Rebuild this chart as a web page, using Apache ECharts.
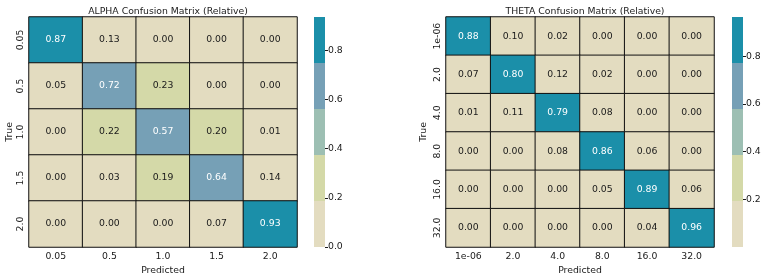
<!DOCTYPE html>
<html>
<head>
<meta charset="utf-8">
<script src="https://cdn.jsdelivr.net/npm/echarts@6/dist/echarts.min.js"></script>
<style>
  html, body { margin: 0; padding: 0; background: #fff; }
  #chart { width: 769px; height: 277px; }
</style>
</head>
<body>
<div id="chart"></div>
<script>
// ALPHA matrix: rows = true class, cols = predicted class
const alphaLabels = ['0.05', '0.5', '1.0', '1.5', '2.0']
const alphaMatrix = [
  [0.87, 0.13, 0.00, 0.00, 0.00],
  [0.05, 0.72, 0.23, 0.00, 0.00],
  [0.00, 0.22, 0.57, 0.20, 0.01],
  [0.00, 0.03, 0.19, 0.64, 0.14],
  [0.00, 0.00, 0.00, 0.07, 0.93]
]
const alphaMax = 0.935

// THETA matrix
const thetaLabels = ['1e-06', '2.0', '4.0', '8.0', '16.0', '32.0']
const thetaMatrix = [
  [0.88, 0.10, 0.02, 0.00, 0.00, 0.00],
  [0.07, 0.80, 0.12, 0.02, 0.00, 0.00],
  [0.01, 0.11, 0.79, 0.08, 0.00, 0.00],
  [0.00, 0.00, 0.08, 0.86, 0.06, 0.00],
  [0.00, 0.00, 0.00, 0.05, 0.89, 0.06],
  [0.00, 0.00, 0.00, 0.00, 0.04, 0.96]
]
const thetaMax = 0.965

// 5-step palette, low -> high
const palette = ['#e3dcc0', '#d4d9a8', '#9dbfb3', '#76a0b6', '#1b8fa9']

const FONT = 'DejaVu Sans'
const FS = 9.3

const toCells = (m) => {
  const out = []
  m.forEach((row, r) => row.forEach((v, c) => out.push([c, r, v])))
  return out
}

const pieces = (vmax) => palette.map((color, i) => ({
  gte: (vmax / 5) * i,
  lt: i === 4 ? 10 : (vmax / 5) * (i + 1),
  color
}))

// outerBoundsMode off so v6 doesn't shrink the grid to fit labels
const heatGrid = (left) => ({ left, top: 17, width: 268, height: 230, outerBoundsMode: 'none' })
const barGrid = (left) => ({ left, top: 17, width: 11, height: 230, outerBoundsMode: 'none' })

const catX = (gridIndex, labels) => ({
  type: 'category', gridIndex, data: labels,
  name: 'Predicted', nameLocation: 'middle', nameGap: 15,
  nameTextStyle: { fontFamily: FONT, fontSize: FS, color: '#1a1a1a' },
  axisLine: { show: false }, axisTick: { show: false }, splitLine: { show: false },
  axisLabel: { fontFamily: FONT, fontSize: FS, color: '#1a1a1a', margin: 5, interval: 0 }
})
const catY = (gridIndex, labels, nameGap) => ({
  type: 'category', gridIndex, data: labels, inverse: true,
  name: 'True', nameLocation: 'middle', nameGap,
  nameTextStyle: { fontFamily: FONT, fontSize: FS, color: '#1a1a1a' },
  axisLine: { show: false }, axisTick: { show: false }, splitLine: { show: false },
  axisLabel: { fontFamily: FONT, fontSize: FS, color: '#1a1a1a', rotate: 90, margin: 4, interval: 0 }
})

const cbX = (gridIndex) => ({
  type: 'category', gridIndex, data: [''], show: false
})
const cbY = (gridIndex, vmax, showMin) => ({
  type: 'value', gridIndex, position: 'right', min: 0, max: vmax, interval: 0.2,
  axisLine: { show: false }, splitLine: { show: false },
  axisTick: { show: true, length: 3, lineStyle: { color: '#1a1a1a' } },
  axisLabel: {
    fontFamily: FONT, fontSize: FS, color: '#1a1a1a', margin: 3,
    showMaxLabel: false, showMinLabel: showMin,
    formatter: (v) => v.toFixed(1)
  }
})

const cbSeries = (axisIndex, vmax) => palette.map((color) => ({
  type: 'bar', xAxisIndex: axisIndex, yAxisIndex: axisIndex,
  stack: 'cb' + axisIndex, barWidth: '100%', silent: true,
  itemStyle: { color },
  data: [vmax / 5]
}))

// white text on the two darkest bands
const heatSeries = (axisIndex, matrix, vmax) => ({
  type: 'heatmap', xAxisIndex: axisIndex, yAxisIndex: axisIndex,
  data: toCells(matrix).map((d) => ({
    value: d,
    label: { color: d[2] >= (vmax / 5) * 3 ? '#fff' : '#1a1a1a' }
  })),
  itemStyle: { borderColor: '#111', borderWidth: 1 },
  label: {
    show: true, fontFamily: FONT, fontSize: FS,
    formatter: (p) => p.value[2].toFixed(2)
  }
})

const chart = echarts.init(document.getElementById('chart'), null, { renderer: 'canvas' })

const option = {
  animation: false,
  textStyle: { fontFamily: FONT },
  title: [
    { text: 'ALPHA Confusion Matrix (Relative)', left: 163, top: 2, textAlign: 'center',
      textStyle: { fontFamily: FONT, fontSize: FS, fontWeight: 'normal', color: '#1a1a1a' } },
    { text: 'THETA Confusion Matrix (Relative)', left: 580, top: 2, textAlign: 'center',
      textStyle: { fontFamily: FONT, fontSize: FS, fontWeight: 'normal', color: '#1a1a1a' } }
  ],
  grid: [heatGrid(29), barGrid(314), heatGrid(446), barGrid(732)],
  xAxis: [catX(0, alphaLabels), cbX(1), catX(2, thetaLabels), cbX(3)],
  yAxis: [catY(0, alphaLabels, 15), cbY(1, alphaMax, true), catY(2, thetaLabels, 18), cbY(3, thetaMax, false)],
  visualMap: [
    { type: 'piecewise', show: false, seriesIndex: 0, dimension: 2, pieces: pieces(alphaMax) },
    { type: 'piecewise', show: false, seriesIndex: 1, dimension: 2, pieces: pieces(thetaMax) }
  ],
  series: [
    heatSeries(0, alphaMatrix, alphaMax),
    heatSeries(2, thetaMatrix, thetaMax),
    ...cbSeries(1, alphaMax),
    ...cbSeries(3, thetaMax)
  ]
}

chart.setOption(option)
</script>
</body>
</html>
